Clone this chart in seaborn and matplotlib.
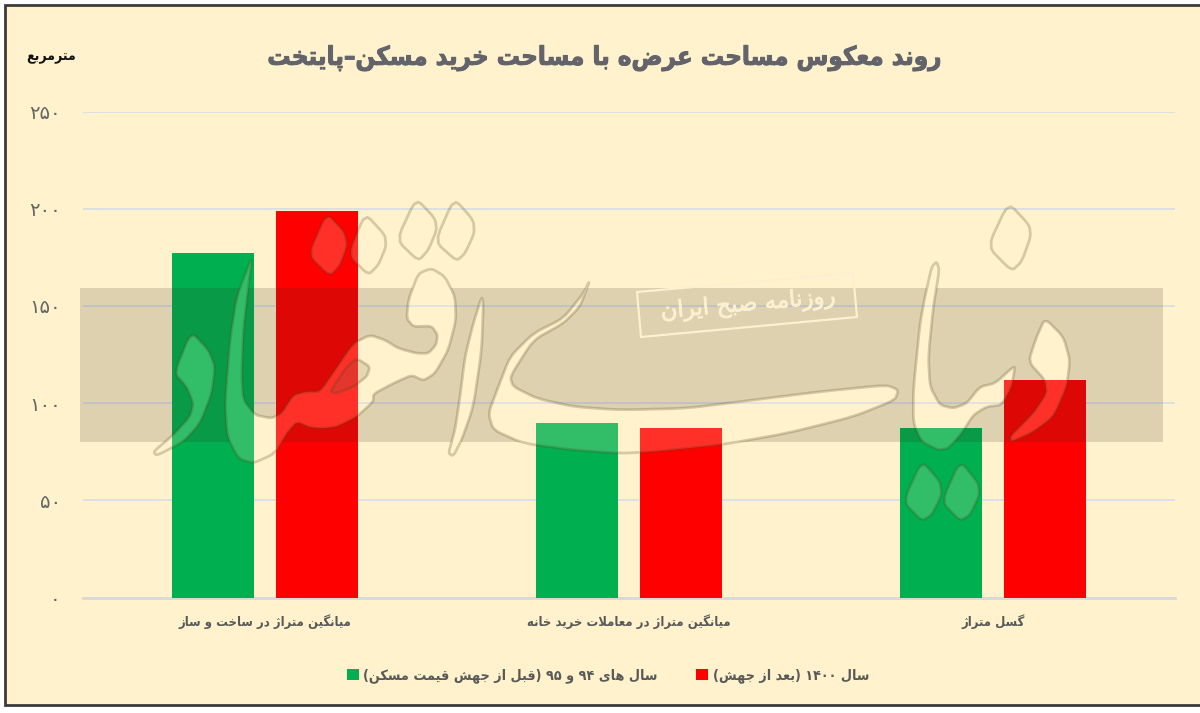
"""
Reverse trend of listed vs purchased home area in the capital.
"""

import re

import matplotlib.patheffects as pe
import matplotlib.pyplot as plt
import pandas as pd
import seaborn as sns
from matplotlib.patches import PathPatch, Polygon, Rectangle
from matplotlib.path import Path

CATEGORIES = ["میانگین متراژ در ساخت و ساز", "میانگین متراژ در معاملات خرید خانه", "گسل متراژ"]
SERIES = ["سال های ۹۴ و ۹۵ (قبل از جهش قیمت مسکن)", "سال ۱۴۰۰ (بعد از جهش)"]
BEFORE_VALUES = [177, 90, 87]
AFTER_VALUES = [199, 87, 112]
Y_TICKS = [0, 50, 100, 150, 200, 250]

TITLE = "روند معکوس مساحت عرضه با مساحت خرید مسکن–پایتخت"
UNIT = "مترمربع"
STAMP = "روزنامه صبح ایران"

BG = "#FFF2CC"
GREEN = "#00B050"
RED = "#FF0000"
W, H = 1200, 713

# presentation forms: first code point, and 4 if the letter joins both sides
FORMS = {
    "ا": (0xFE8D, 2), "ب": (0xFE8F, 4), "پ": (0xFB56, 4), "ت": (0xFE95, 4), "ج": (0xFE9D, 4),
    "چ": (0xFB7A, 4), "ح": (0xFEA1, 4), "خ": (0xFEA5, 4), "د": (0xFEA9, 2), "ر": (0xFEAD, 2),
    "ز": (0xFEAF, 2), "ژ": (0xFB8A, 2), "س": (0xFEB1, 4), "ش": (0xFEB5, 4), "ص": (0xFEB9, 4),
    "ع": (0xFEC9, 4), "ف": (0xFED1, 4), "ق": (0xFED5, 4), "ک": (0xFB8E, 4), "گ": (0xFB92, 4),
    "ل": (0xFEDD, 4), "م": (0xFEE1, 4), "ن": (0xFEE5, 4), "و": (0xFEED, 2), "ه": (0xFEE9, 4),
    "ی": (0xFBFC, 4), "\ufefb": (0xFEFB, 2),
}


def fa(text):
    """Shape Persian text and put it in visual order, matplotlib does neither."""
    text = text.replace("لا", "\ufefb")
    out = []
    for i, ch in enumerate(text):
        if ch not in FORMS:
            out.append(ch)
            continue
        start, kind = FORMS[ch]
        prev = text[i - 1] if i else ""
        after = text[i + 1] if i + 1 < len(text) else ""
        from_prev = prev in FORMS and FORMS[prev][1] == 4
        to_next = kind == 4 and after in FORMS
        if from_prev and to_next:
            out.append(chr(start + 3))
        elif to_next:
            out.append(chr(start + 2))
        elif from_prev:
            out.append(chr(start + 1))
        else:
            out.append(chr(start))
    visual = "".join(out)[::-1].translate(str.maketrans("()", ")("))
    return re.sub("[۰-۹]+", lambda m: m.group(0)[::-1], visual)


def smooth(points, rounds=2, cut=0.16):
    """Corner cutting for the hand traced watermark outlines."""
    for _ in range(rounds):
        new = []
        for (x0, y0), (x1, y1) in zip(points, points[1:] + points[:1]):
            new.append(((1 - cut) * x0 + cut * x1, (1 - cut) * y0 + cut * y1))
            new.append((cut * x0 + (1 - cut) * x1, cut * y0 + (1 - cut) * y1))
        points = new
    return points


def to_px(points):
    return smooth([(140 + x / 3, 190 + y / 3) for x, y in points])


def shifted(points):
    return [(x + 1440, y) for x, y in points]


# watermark outlines
WM_SHAPES = [
    [(560, 70), (612, 125), (622, 165), (600, 225), (570, 258), (505, 195)],
    [(675, 70), (735, 135), (738, 170), (715, 225), (685, 255), (625, 195)],
    [(828, 25), (885, 85), (890, 120), (865, 180), (835, 213), (770, 150)],
    [(942, 25), (1000, 90), (1003, 130), (975, 190), (950, 213), (885, 155)],
    [(153, 425), (205, 480), (225, 530), (215, 610), (180, 700), (130, 755), (50, 797), (40, 785),
     (100, 735), (150, 680), (160, 640), (140, 590), (103, 550)],
    [(338, 195), (325, 290), (310, 420), (305, 560), (310, 630), (345, 675), (395, 685), (425, 670),
     (460, 615), (500, 605), (540, 605), (575, 555), (640, 460), (690, 435), (735, 450), (775, 475),
     (830, 490), (865, 490), (888, 465), (893, 435), (875, 408), (820, 410), (800, 385), (805, 330),
     (835, 250), (875, 235), (915, 260), (945, 320), (948, 390), (925, 480), (885, 550), (850, 572),
     (815, 555), (760, 580), (700, 612), (700, 635), (650, 680), (590, 710), (550, 715), (510, 712),
     (470, 695), (440, 730), (405, 790), (340, 820), (295, 805), (262, 740), (255, 640), (270, 450),
     (290, 320)],
    [(1025, 320), (1000, 400), (975, 500), (960, 620), (945, 720), (925, 790), (940, 798), (965, 750),
     (1000, 650), (1025, 480), (1030, 340)],
    [(1350, 270), (1320, 350), (1270, 400), (1180, 450), (1110, 560), (1120, 590), (1190, 625),
     (1300, 650), (1440, 660), (1640, 655), (1840, 630), (2040, 605), (2240, 585), (2275, 600),
     (2265, 630), (2140, 680), (1940, 730), (1740, 765), (1540, 785), (1440, 790), (1300, 780),
     (1150, 760), (1060, 720), (1045, 670), (1075, 590), (1110, 500), (1180, 430), (1270, 385),
     (1330, 310)],
    shifted([(950, 215), (958, 240), (940, 350), (925, 500), (930, 590), (960, 645), (1000, 655),
             (1040, 640), (1080, 590), (1125, 580), (1175, 535), (1185, 530), (1175, 590), (1145, 645),
             (1100, 650), (1060, 675), (1025, 730), (985, 775), (955, 780), (905, 755), (880, 700),
             (880, 600), (900, 400), (915, 320), (935, 230)]),
    shifted([(1275, 385), (1330, 440), (1350, 510), (1340, 590), (1300, 680), (1240, 725), (1175, 755),
             (1170, 740), (1240, 670), (1280, 610), (1275, 570), (1225, 515), (1250, 440)]),
    shifted([(1165, 38), (1228, 105), (1232, 140), (1205, 215), (1175, 243), (1103, 170)]),
    shifted([(905, 812), (960, 875), (965, 915), (935, 975), (905, 992), (850, 935)]),
    shifted([(1020, 812), (1075, 880), (1078, 915), (1050, 975), (1020, 992), (965, 935)]),
]
WM_COUNTER = [(570, 605), (620, 530), (650, 505), (690, 530), (680, 560), (640, 590), (590, 610)]
STAMP_BOX = [(637, 292), (853, 273), (857, 317), (641, 337)]
OUTLINE = (0.33, 0.27, 0.12, 0.24)


def ring(points, clockwise):
    """Closed path with a fixed winding, so the band can have holes."""
    area = sum(x0 * y1 - x1 * y0 for (x0, y0), (x1, y1) in zip(points, points[1:] + points[:1]))
    if (area > 0) != clockwise:
        points = points[::-1]
    codes = [Path.MOVETO] + [Path.LINETO] * (len(points) - 1) + [Path.CLOSEPOLY]
    return Path(points + points[:1], codes)


sns.set_theme(style="white")

df = pd.DataFrame({
    "category": [fa(c) for c in CATEGORIES] * 2,
    "series": [fa(SERIES[0])] * 3 + [fa(SERIES[1])] * 3,
    "value": BEFORE_VALUES + AFTER_VALUES,
})

fig = plt.figure(figsize=(W / 100, H / 100), dpi=100, facecolor="white")
fig.add_artist(Rectangle((5 / W, 1 - 705 / H), 1.01, 700 / H, transform=fig.transFigure,
                         facecolor=BG, edgecolor="#3A3A3A", linewidth=2, zorder=-5))

ax = fig.add_axes([83 / W, 1 - 597.5 / H, (1175 - 83) / W, (597.5 - 111.5) / H], facecolor="none")
sns.barplot(data=df, x="category", y="value", hue="series", palette=[GREEN, RED],
            width=0.571, gap=0.21, saturation=1, edgecolor="none", linewidth=0, ax=ax, zorder=3)

ax.set_xlim(-0.5, 2.5)
ax.set_ylim(0, 250)
ax.set_yticks(Y_TICKS)
ax.set_yticklabels([fa(str(t).translate(str.maketrans("0123456789", "۰۱۲۳۴۵۶۷۸۹"))) for t in Y_TICKS],
                   fontsize=14, color="#666666")
ax.tick_params(axis="y", length=0, pad=16)
ax.tick_params(axis="x", length=0, pad=12)
for label in ax.get_xticklabels():
    label.set_fontsize(9.4)
    label.set_fontweight("bold")
    label.set_stretch("condensed")
    label.set_color("#595959")
ax.set_xlabel("")
ax.set_ylabel("")
ax.grid(axis="y", color="#D3DBE9", linewidth=1.1, zorder=1)
ax.set_axisbelow(True)
ax.spines[["top", "right", "left"]].set_visible(False)
ax.spines["bottom"].set_color("#D9D9D9")
ax.spines["bottom"].set_linewidth(2)

sns.move_legend(ax, "center", bbox_to_anchor=(608 / W, 1 - 676 / H), bbox_transform=fig.transFigure,
                ncol=2, frameon=False, title=None, fontsize=10.3, handlelength=0.85, handleheight=0.85,
                handletextpad=0.3, columnspacing=2.7)
for text in ax.get_legend().get_texts():
    text.set_fontweight("bold")
    text.set_stretch("condensed")
    text.set_color("#595959")

# watermark layer in picture pixels
over = fig.add_axes([0, 0, 1, 1], facecolor="none", zorder=5)
over.set_xlim(0, W)
over.set_ylim(H, 0)
over.axis("off")

shapes = [to_px(s) for s in WM_SHAPES]
band = [(80, 288), (1163, 288), (1163, 442), (80, 442)]
rings = [ring(band, True)] + [ring(s, False) for s in shapes] + [ring(to_px(WM_COUNTER), True)]
band_patch = PathPatch(Path.make_compound_path(*rings), facecolor="#3A3020", alpha=0.17, edgecolor="none")
over.add_patch(band_patch)
# shapes sticking out of the band would fill in otherwise
band_patch.set_clip_path(Rectangle((80, 288), 1083, 154, transform=over.transData))

for s in shapes:
    over.add_patch(Polygon(s, closed=True, facecolor=(1, 0.95, 0.8, 0.2), edgecolor=OUTLINE,
                           linewidth=2, joinstyle="round"))
over.add_patch(Polygon(to_px(WM_COUNTER), closed=True, facecolor="none", edgecolor=OUTLINE, linewidth=2))

over.add_patch(Polygon(STAMP_BOX, closed=True, facecolor="none", edgecolor="#FBF0CF", linewidth=1.6))
over.text(748, 305, fa(STAMP), fontsize=16.5, color="#FBF0CF", ha="center", va="center", rotation=5,
          path_effects=[pe.withStroke(linewidth=0.6, foreground="#FBF0CF")])

over.text(605, 58, fa(TITLE), fontsize=18.5, fontweight="bold", fontstretch="condensed", color="#63636B",
          ha="center", va="center", path_effects=[pe.withStroke(linewidth=0.7, foreground="#63636B")])
over.text(51, 57, fa(UNIT), fontsize=10, fontweight="bold", fontstretch="condensed", color="#111111",
          ha="center", va="center")

fig.savefig("out.png", dpi=100)
plt.close(fig)
